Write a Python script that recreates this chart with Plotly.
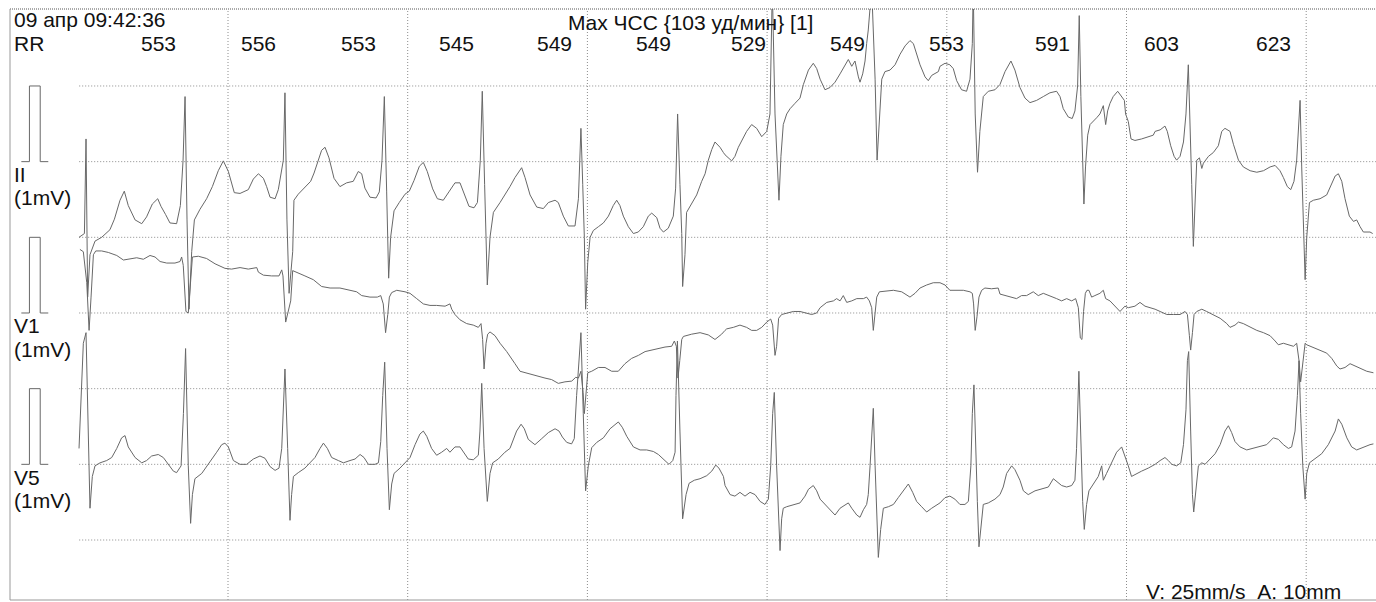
import plotly.graph_objects as go

# ---- ECG samples: (time in ms, amplitude in mV relative to lead baseline) ----
lead_ii = [
    (171,-1.00),(201,-0.95),(210,0.30),(219,-1.79),(232,-1.23),(260,-1.05),(297,-1.00),(343,-0.90),
    (368,-0.76),(399,-0.51),(423,-0.39),(445,-0.58),(483,-0.77),(520,-0.82),(547,-0.73),(579,-0.56),
    (609,-0.49),(627,-0.59),(653,-0.70),(677,-0.81),(714,-0.82),(735,-0.58),(750,0.02),(761,0.86),
    (772,-0.77),(783,-1.95),(798,-1.19),(813,-0.77),(844,-0.63),(881,-0.49),(913,-0.33),(946,-0.12),
    (974,0.01),(1002,-0.13),(1035,-0.41),(1067,-0.42),(1113,-0.37),(1141,-0.23),(1169,-0.16),(1197,-0.22),
    (1215,-0.33),(1234,-0.47),(1262,-0.49),(1280,-0.37),(1308,0.02),(1317,0.91),(1328,-0.77),(1340,-1.74),
    (1360,-1.19),(1367,-0.51),(1391,-0.43),(1428,-0.34),(1460,-0.26),(1479,-0.15),(1497,-0.02),(1521,0.15),
    (1540,0.19),(1562,0.05),(1590,-0.22),(1623,-0.33),(1660,-0.28),(1697,-0.26),(1725,-0.13),(1744,-0.16),
    (1762,-0.35),(1790,-0.47),(1824,-0.48),(1842,-0.40),(1857,0.02),(1870,0.86),(1883,-0.40),(1894,-1.54),
    (1905,-1.00),(1924,-0.65),(1953,-0.54),(1985,-0.43),(2009,-0.39),(2035,-0.25),(2065,-0.06),(2087,-0.01),
    (2109,-0.13),(2139,-0.36),(2165,-0.49),(2198,-0.51),(2232,-0.39),(2263,-0.28),(2291,-0.28),(2313,-0.41),
    (2341,-0.59),(2369,-0.61),(2388,-0.54),(2404,0.02),(2415,0.93),(2428,-0.30),(2443,-1.63),(2458,-1.00),
    (2477,-0.67),(2514,-0.54),(2560,-0.37),(2569,-0.33),(2597,-0.21),(2634,-0.08),(2653,-0.21),(2681,-0.44),
    (2718,-0.60),(2755,-0.62),(2783,-0.54),(2820,-0.51),(2838,-0.54),(2866,-0.72),(2894,-0.85),(2931,-0.85),
    (2950,-0.49),(2964,0.44),(2974,-0.30),(2983,-1.00),(2990,-1.95),(3002,-1.33),(3015,-1.00),(3033,-0.91),
    (3061,-0.86),(3089,-0.81),(3117,-0.72),(3144,-0.58),(3163,-0.51),(3181,-0.58),(3200,-0.72),(3228,-0.86),
    (3256,-0.95),(3283,-0.93),(3311,-0.86),(3339,-0.72),(3358,-0.68),(3386,-0.74),(3404,-0.88),(3423,-0.93),
    (3450,-0.88),(3478,-0.72),(3491,-0.35),(3502,0.63),(3515,-0.30),(3525,-0.95),(3530,-1.65),(3543,-1.23),
    (3552,-0.67),(3580,-0.56),(3608,-0.44),(3636,-0.26),(3655,-0.16),(3673,0.02),(3692,0.16),(3710,0.26),
    (3738,0.19),(3757,0.12),(3766,0.09),(3803,0.01),(3821,0.07),(3840,0.19),(3859,0.28),(3886,0.40),
    (3914,0.49),(3942,0.44),(3970,0.33),(3998,0.40),(4016,0.63),(4029,2.30),(4044,0.63),(4066,-0.51),
    (4077,0.07),(4090,0.49),(4109,0.63),(4128,0.70),(4155,0.77),(4183,0.84),(4202,1.02),(4230,1.21),
    (4257,1.30),(4276,1.23),(4295,1.09),(4322,0.95),(4350,0.98),(4378,1.05),(4406,1.16),(4434,1.28),
    (4452,1.35),(4471,1.26),(4489,1.33),(4508,1.12),(4517,1.05),(4532,1.16),(4545,1.33),(4554,1.56),
    (4563,1.74),(4582,2.30),(4601,1.09),(4612,0.02),(4625,0.63),(4638,1.09),(4656,1.19),(4684,1.21),
    (4712,1.28),(4740,1.42),(4768,1.53),(4795,1.60),(4814,1.56),(4832,1.42),(4851,1.28),(4879,1.12),
    (4897,1.07),(4916,1.14),(4953,1.19),(4962,1.26),(4990,1.30),(5017,1.28),(5036,1.23),(5055,1.07),
    (5082,0.95),(5110,0.93),(5129,1.09),(5142,1.56),(5147,2.30),(5158,0.63),(5171,-0.14),(5184,0.40),
    (5203,0.86),(5231,0.93),(5268,0.95),(5296,1.02),(5324,1.19),(5357,1.33),(5379,1.21),(5407,0.98),
    (5435,0.84),(5463,0.78),(5500,0.81),(5537,0.86),(5574,0.91),(5611,0.93),(5630,0.86),(5648,0.70),
    (5676,0.59),(5698,0.57),(5713,0.67),(5728,1.00),(5737,1.93),(5746,0.86),(5756,0.16),(5763,-0.56),
    (5772,-0.07),(5784,0.35),(5797,0.49),(5815,0.53),(5834,0.58),(5852,0.63),(5871,0.74),(5884,0.49),
    (5895,0.67),(5908,0.77),(5926,0.86),(5951,0.93),(5973,0.86),(5988,0.81),(5995,0.63),(6010,0.53),
    (6025,0.30),(6047,0.28),(6084,0.30),(6121,0.33),(6149,0.35),(6159,0.40),(6187,0.42),(6214,0.47),
    (6227,0.40),(6246,0.21),(6265,0.07),(6279,0.02),(6298,0.07),(6317,0.26),(6331,0.63),(6344,1.28),
    (6354,0.58),(6363,-0.30),(6372,-1.12),(6381,-0.54),(6391,0.02),(6406,0.05),(6419,-0.09),(6428,-0.02),
    (6456,0.07),(6483,0.12),(6511,0.21),(6530,0.40),(6548,0.44),(6576,0.40),(6595,0.23),(6623,0.02),
    (6650,-0.07),(6688,-0.12),(6725,-0.14),(6762,-0.12),(6799,-0.07),(6827,-0.05),(6854,-0.12),(6873,-0.21),
    (6895,-0.33),(6914,-0.37),(6932,-0.26),(6947,0.02),(6960,0.63),(6966,0.81),(6975,-0.07),(6984,-0.86),
    (6994,-1.56),(7003,-1.00),(7018,-0.54),(7040,-0.51),(7077,-0.49),(7114,-0.44),(7142,-0.30),(7161,-0.19),
    (7179,-0.16),(7198,-0.26),(7216,-0.49),(7240,-0.72),(7263,-0.79),(7281,-0.77),(7300,-0.86),(7318,-0.93),
    (7355,-0.93),(7370,-0.95),
]

lead_v1 = [
    (176,0.84),(195,0.81),(214,0.40),(227,-0.23),(238,0.21),(251,0.77),(264,0.82),(297,0.82),(334,0.80),
    (381,0.76),(418,0.70),(455,0.72),(492,0.73),(529,0.71),(566,0.76),(594,0.74),(622,0.68),(659,0.66),
    (705,0.66),(733,0.68),(742,0.74),(751,0.63),(766,0.02),(779,0.00),(792,0.49),(802,0.74),(835,0.75),
    (881,0.72),(928,0.65),(983,0.59),(1020,0.58),(1067,0.60),(1113,0.58),(1160,0.60),(1169,0.54),(1197,0.50),
    (1243,0.49),(1284,0.49),(1299,0.57),(1306,0.49),(1321,-0.12),(1349,0.16),(1360,0.56),(1382,0.54),
    (1428,0.49),(1475,0.44),(1521,0.35),(1568,0.33),(1623,0.33),(1679,0.30),(1716,0.28),(1744,0.23),
    (1790,0.21),(1831,0.21),(1850,0.23),(1864,0.12),(1877,-0.26),(1889,-0.02),(1898,0.21),(1911,0.27),
    (1939,0.30),(1985,0.28),(2013,0.26),(2050,0.19),(2087,0.12),(2124,0.10),(2161,0.10),(2208,0.09),
    (2235,0.12),(2245,0.05),(2263,-0.02),(2291,-0.09),(2328,-0.14),(2365,-0.16),(2393,-0.19),(2408,-0.14),
    (2417,-0.35),(2425,-0.74),(2436,-0.40),(2445,-0.28),(2458,-0.25),(2486,-0.30),(2514,-0.40),(2551,-0.51),
    (2569,-0.58),(2597,-0.67),(2625,-0.77),(2653,-0.79),(2690,-0.81),(2727,-0.84),(2764,-0.86),(2801,-0.88),
    (2838,-0.93),(2875,-0.91),(2913,-0.90),(2935,-0.85),(2950,-0.86),(2964,-0.77),(2976,-1.05),(2983,-1.33),
    (2992,-1.05),(3002,-0.79),(3024,-0.77),(3061,-0.72),(3098,-0.72),(3135,-0.77),(3172,-0.77),(3209,-0.67),
    (3246,-0.60),(3284,-0.56),(3321,-0.51),(3358,-0.49),(3395,-0.46),(3432,-0.45),(3469,-0.44),(3484,-0.37),
    (3495,-0.44),(3504,-0.86),(3514,-0.63),(3525,-0.35),(3534,-0.31),(3580,-0.28),(3627,-0.26),(3673,-0.29),
    (3710,-0.35),(3747,-0.28),(3766,-0.23),(3775,-0.21),(3812,-0.19),(3849,-0.16),(3886,-0.19),(3914,-0.23),
    (3942,-0.23),(3970,-0.19),(3998,-0.12),(4020,-0.08),(4031,-0.16),(4044,-0.56),(4053,-0.44),(4064,-0.07),
    (4081,-0.02),(4109,0.00),(4146,0.02),(4183,0.02),(4220,0.00),(4248,-0.02),(4276,0.00),(4295,0.07),
    (4332,0.14),(4369,0.16),(4387,0.19),(4406,0.16),(4424,0.23),(4443,0.14),(4471,0.16),(4499,0.19),
    (4536,0.19),(4554,0.21),(4569,0.16),(4582,0.07),(4591,-0.23),(4601,0.02),(4610,0.21),(4625,0.28),
    (4656,0.29),(4703,0.30),(4749,0.28),(4777,0.23),(4795,0.21),(4823,0.26),(4851,0.33),(4888,0.37),
    (4925,0.40),(4962,0.40),(4990,0.37),(5017,0.30),(5055,0.30),(5092,0.30),(5129,0.28),(5142,0.26),
    (5149,0.12),(5158,-0.23),(5168,-0.05),(5179,0.21),(5194,0.30),(5212,0.33),(5249,0.32),(5286,0.33),
    (5296,0.25),(5324,0.23),(5361,0.21),(5388,0.19),(5416,0.23),(5444,0.23),(5481,0.28),(5509,0.23),
    (5537,0.26),(5574,0.23),(5611,0.19),(5639,0.16),(5667,0.19),(5695,0.16),(5717,0.19),(5732,0.07),
    (5743,-0.33),(5752,-0.35),(5761,0.02),(5771,0.26),(5780,0.30),(5791,0.30),(5806,0.21),(5824,0.23),
    (5852,0.26),(5871,0.30),(5884,0.19),(5908,0.16),(5936,0.09),(5964,0.02),(5991,0.09),(6010,0.07),
    (6047,0.09),(6075,0.14),(6103,0.09),(6140,0.07),(6159,0.05),(6187,0.02),(6224,-0.02),(6261,-0.02),
    (6298,-0.02),(6326,0.02),(6339,-0.02),(6350,-0.30),(6357,-0.49),(6367,-0.26),(6376,-0.02),(6391,0.02),
    (6419,0.05),(6446,0.02),(6483,-0.02),(6521,-0.07),(6558,-0.14),(6576,-0.19),(6604,-0.16),(6623,-0.12),
    (6650,-0.14),(6688,-0.19),(6725,-0.23),(6762,-0.26),(6799,-0.30),(6827,-0.37),(6845,-0.42),(6873,-0.40),
    (6901,-0.42),(6929,-0.44),(6947,-0.40),(6960,-0.63),(6969,-0.91),(6981,-0.63),(6994,-0.40),(7003,-0.42),
    (7040,-0.46),(7077,-0.49),(7114,-0.53),(7142,-0.60),(7170,-0.70),(7188,-0.74),(7216,-0.72),(7244,-0.67),
    (7272,-0.70),(7300,-0.74),(7337,-0.77),(7374,-0.79),
]

lead_v5 = [
    (171,0.21),(182,0.91),(195,1.60),(210,1.74),(223,0.44),(232,-0.58),(245,-0.16),(260,-0.02),(288,0.02),
    (325,0.05),(353,0.09),(381,0.21),(408,0.35),(427,0.38),(445,0.23),(483,0.09),(520,0.02),(547,0.05),
    (575,0.11),(612,0.13),(640,0.09),(668,0.00),(696,-0.09),(714,-0.11),(739,-0.02),(752,0.67),(764,1.53),
    (779,-0.02),(792,-0.78),(802,-0.40),(816,-0.19),(854,-0.12),(881,-0.03),(909,0.05),(937,0.16),(965,0.26),
    (983,0.28),(1002,0.23),(1030,0.05),(1067,0.00),(1104,0.00),(1141,0.07),(1178,0.11),(1206,0.08),
    (1234,-0.03),(1262,-0.08),(1284,-0.05),(1299,0.21),(1317,1.26),(1332,0.21),(1345,-0.74),(1354,-0.40),
    (1364,-0.16),(1391,-0.11),(1428,-0.05),(1456,0.02),(1484,0.09),(1512,0.21),(1531,0.28),(1553,0.21),
    (1577,0.09),(1614,0.05),(1642,0.02),(1679,0.05),(1707,0.07),(1735,0.13),(1757,0.09),(1781,0.00),
    (1818,0.00),(1837,0.02),(1850,0.30),(1861,0.91),(1872,1.35),(1885,0.21),(1898,-0.60),(1911,-0.26),
    (1924,-0.12),(1957,-0.05),(1985,0.02),(2013,0.09),(2041,0.26),(2068,0.40),(2087,0.44),(2106,0.37),
    (2133,0.21),(2161,0.12),(2189,0.16),(2217,0.21),(2235,0.16),(2263,0.23),(2291,0.23),(2313,0.16),
    (2337,0.07),(2365,0.06),(2393,0.12),(2402,0.44),(2412,1.07),(2425,0.21),(2443,-0.49),(2458,-0.12),
    (2473,0.02),(2504,0.07),(2541,0.16),(2569,0.21),(2579,0.28),(2606,0.44),(2631,0.53),(2649,0.47),
    (2671,0.33),(2708,0.26),(2746,0.34),(2783,0.42),(2820,0.47),(2842,0.44),(2861,0.36),(2885,0.29),
    (2912,0.27),(2927,0.34),(2940,0.91),(2953,1.37),(2964,1.74),(2977,0.67),(2990,-0.35),(3005,-0.02),
    (3024,0.22),(3052,0.29),(3089,0.35),(3126,0.47),(3154,0.53),(3172,0.56),(3194,0.49),(3219,0.37),
    (3256,0.23),(3293,0.19),(3330,0.19),(3367,0.17),(3395,0.13),(3428,0.05),(3454,0.00),(3475,0.05),
    (3488,0.16),(3493,0.91),(3501,1.63),(3515,0.44),(3530,-0.72),(3549,-0.40),(3566,-0.25),(3595,-0.21),
    (3627,-0.19),(3664,-0.15),(3692,-0.09),(3714,-0.01),(3732,-0.05),(3757,-0.16),(3766,-0.28),(3794,-0.40),
    (3821,-0.42),(3849,-0.37),(3877,-0.42),(3905,-0.37),(3933,-0.40),(3961,-0.49),(3988,-0.53),(4007,-0.46),
    (4020,-0.02),(4031,0.67),(4040,0.95),(4053,-0.02),(4063,-0.72),(4072,-1.14),(4081,-0.72),(4090,-0.58),
    (4109,-0.56),(4146,-0.53),(4183,-0.51),(4211,-0.42),(4230,-0.33),(4257,-0.28),(4276,-0.35),(4295,-0.46),
    (4322,-0.53),(4350,-0.60),(4378,-0.67),(4406,-0.58),(4434,-0.53),(4452,-0.51),(4471,-0.58),(4499,-0.67),
    (4517,-0.70),(4536,-0.60),(4554,-0.53),(4563,-0.40),(4573,-0.02),(4582,0.44),(4591,0.74),(4601,-0.02),
    (4610,-0.72),(4619,-1.23),(4632,-0.86),(4647,-0.58),(4675,-0.56),(4703,-0.53),(4730,-0.44),(4758,-0.35),
    (4786,-0.26),(4810,-0.37),(4832,-0.49),(4860,-0.56),(4888,-0.63),(4916,-0.58),(4944,-0.53),(4962,-0.51),
    (4990,-0.44),(5017,-0.42),(5045,-0.46),(5073,-0.53),(5101,-0.53),(5120,-0.49),(5134,-0.02),(5142,0.67),
    (5151,1.05),(5160,0.21),(5170,-0.49),(5179,-1.09),(5194,-0.72),(5203,-0.53),(5231,-0.51),(5268,-0.46),
    (5296,-0.40),(5314,-0.30),(5333,-0.12),(5361,-0.02),(5379,-0.07),(5407,-0.21),(5426,-0.35),(5453,-0.40),
    (5491,-0.35),(5528,-0.33),(5565,-0.30),(5593,-0.19),(5611,-0.23),(5639,-0.28),(5667,-0.30),(5695,-0.28),
    (5713,-0.21),(5722,0.21),(5735,1.23),(5746,0.21),(5756,-0.49),(5765,-0.86),(5778,-0.53),(5791,-0.35),
    (5815,-0.26),(5843,-0.16),(5862,-0.02),(5871,-0.21),(5889,-0.12),(5917,0.02),(5945,0.16),(5973,0.23),
    (5991,0.12),(6010,-0.02),(6028,-0.16),(6056,-0.12),(6084,-0.09),(6121,-0.05),(6149,-0.02),(6159,0.00),
    (6187,0.05),(6214,0.09),(6233,0.05),(6252,0.00),(6279,-0.02),(6302,0.02),(6317,0.26),(6331,0.72),
    (6339,1.37),(6346,1.49),(6357,0.44),(6367,-0.40),(6374,-0.63),(6385,-0.35),(6400,-0.02),(6419,0.02),
    (6437,0.00),(6465,0.07),(6493,0.14),(6521,0.26),(6548,0.44),(6567,0.51),(6585,0.42),(6604,0.30),
    (6632,0.23),(6669,0.19),(6706,0.21),(6743,0.23),(6780,0.26),(6817,0.35),(6845,0.33),(6873,0.26),
    (6901,0.21),(6919,0.23),(6938,0.44),(6951,0.91),(6960,1.37),(6969,0.67),(6981,-0.02),(6994,-0.46),
    (7003,-0.12),(7018,0.02),(7049,0.07),(7086,0.14),(7123,0.26),(7161,0.44),(7179,0.60),(7198,0.53),
    (7226,0.35),(7253,0.23),(7281,0.19),(7318,0.23),(7355,0.26),(7374,0.27),
]

# calibration pulse (ms, mV)
cal_ms = [-150, -105, -105, -45, -45, 0]
cal_mv = [0, 0, 1, 1, 0, 0]

lead_names = ["II", "V1", "V5"]
lead_base = [5, 3, 1]          # baseline of each strip, in mV grid units

rr_ms = [553, 556, 553, 545, 549, 549, 529, 549, 553, 591, 603, 623]
first_r_s = 0.21

date_text = "09 апр 09:42:36"
title_text = "Max ЧСС {103 уд/мин} [1]"
scale_text = "V: 25mm/s\u00a0\u00a0A: 10mm"

FONT = "Liberation Sans, Arial, sans-serif"
TRACE = "#686868"
GRID = "#8c8c8c"

fig = go.Figure()

for name, base, data in zip(lead_names, lead_base, [lead_ii, lead_v1, lead_v5]):
    fig.add_trace(go.Scatter(
        x=[p[0] / 1000 for p in data], y=[base + p[1] for p in data],
        mode="lines", line=dict(color=TRACE, width=1), hoverinfo="skip", name=name))
    fig.add_trace(go.Scatter(
        x=[v / 1000 for v in cal_ms], y=[base + v for v in cal_mv],
        mode="lines", line=dict(color=TRACE, width=1), hoverinfo="skip"))

X0, X1 = -0.2131, 7.3884
Y0, Y1 = -0.7929, 7.0173

shapes = []
for v in range(0, 7):
    shapes.append(dict(type="line", xref="x", yref="y", x0=0.172, x1=X1, y0=v, y1=v,
                       line=dict(color=GRID, width=1, dash="1px,2px"), layer="below"))
for t in range(1, 8):
    shapes.append(dict(type="line", xref="x", yref="paper", x0=t, x1=t, y0=0, y1=1,
                       line=dict(color=GRID, width=1, dash="1px,2px"), layer="below"))
# frame
shapes.append(dict(type="line", xref="paper", yref="paper", x0=0, x1=1, y0=1, y1=1,
                   line=dict(color="#555555", width=1, dash="1px,1px")))
shapes.append(dict(type="line", xref="paper", yref="paper", x0=0, x1=0, y0=0, y1=1,
                   line=dict(color="#999999", width=1)))
shapes.append(dict(type="line", xref="paper", yref="paper", x0=0, x1=1, y0=0, y1=0,
                   line=dict(color="#999999", width=1)))

ann = []
tf = dict(family=FONT, size=21, color="#111111")
ann.append(dict(text=date_text, xref="paper", yref="paper", x=0.0015, y=0.9814,
                xanchor="left", yanchor="middle", showarrow=False, font=tf))
ann.append(dict(text="RR", xref="paper", yref="paper", x=0.0015, y=0.9410,
                xanchor="left", yanchor="middle", showarrow=False, font=tf))
ann.append(dict(text=title_text, xref="paper", yref="paper", x=0.4985, y=0.978,
                xanchor="center", yanchor="middle", showarrow=False, font=tf))
r_t = first_r_s
for rr in rr_ms:
    r_t += rr / 1000
    ann.append(dict(text=str(rr), xref="x", yref="paper", x=r_t, y=0.9410, xshift=-7,
                    xanchor="right", yanchor="middle", showarrow=False, font=tf))
for name, base in zip(lead_names, lead_base):
    ann.append(dict(text=name, xref="paper", yref="y", x=0.0015, y=base - 0.17,
                    xanchor="left", yanchor="middle", showarrow=False, font=tf))
    ann.append(dict(text="(1mV)", xref="paper", yref="y", x=0.0015, y=base - 0.48,
                    xanchor="left", yanchor="middle", showarrow=False, font=tf))
ann.append(dict(text=scale_text, xref="paper", yref="paper", x=0.9758, y=0.0152,
                xanchor="right", yanchor="middle", showarrow=False, font=tf))

fig.update_layout(
    width=1376, height=602,
    margin=dict(l=10, r=0, t=9, b=2, pad=0),
    paper_bgcolor="white", plot_bgcolor="white",
    showlegend=False,
    xaxis=dict(range=[X0, X1], visible=False, fixedrange=True),
    yaxis=dict(range=[Y0, Y1], visible=False, fixedrange=True),
    shapes=shapes, annotations=ann,
)

fig.write_html(
    "out.html",
    config={"displayModeBar": False, "staticPlot": True},
    post_script="document.body.style.margin='0';document.body.style.padding='0';"
                "document.body.style.overflow='hidden';",
)
